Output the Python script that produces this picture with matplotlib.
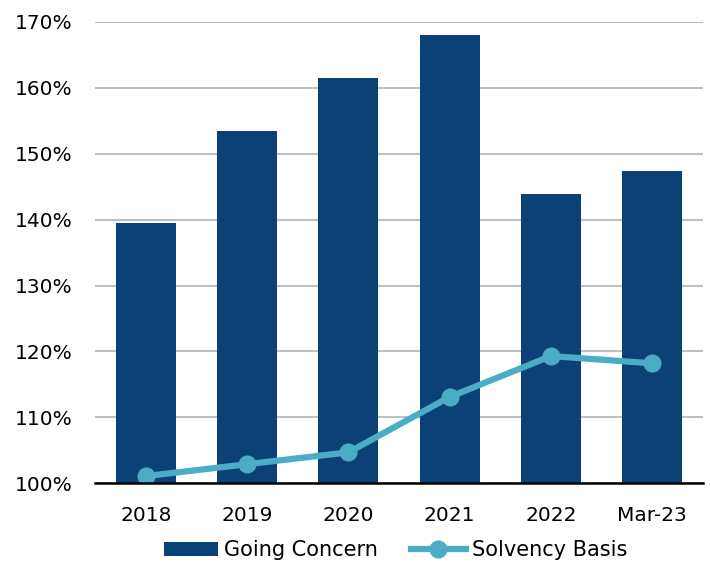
import matplotlib
matplotlib.use("Agg")
import matplotlib.pyplot as plt
from matplotlib.ticker import FuncFormatter

categories = ["2018", "2019", "2020", "2021", "2022", "Mar-23"]
going_concern = [139.5, 153.4, 161.4, 168.0, 143.9, 147.4]
solvency_basis = [101.1, 102.9, 104.7, 113.1, 119.3, 118.2]

plt.rcParams['font.family'] = ['DejaVu Sans']

fig = plt.figure(figsize=(7.10, 5.64), dpi=100)
ax = fig.add_axes([0.134, 0.143, 0.856, 0.8185])

x = list(range(len(categories)))
bars = ax.bar(x, going_concern, width=0.59, color="#0B4177", label="Going Concern", zorder=2)
line, = ax.plot(x, solvency_basis, color="#4BACC6", linewidth=4.5, marker="o", markersize=12,
                label="Solvency Basis", zorder=3)

ax.set_ylim(100, 170)
ax.set_xlim(-0.5, len(categories) - 0.5)
ax.set_yticks(range(100, 171, 10))
ax.yaxis.set_major_formatter(FuncFormatter(lambda v, p: f"{int(v)}%"))
ax.set_xticks(x)
ax.set_xticklabels(categories)
ax.tick_params(axis='both', length=0, labelsize=14.5, colors="black")
ax.tick_params(axis='x', pad=16)
ax.tick_params(axis='y', pad=16)
ax.grid(axis='y', color="#BFBFBF", linewidth=1.5, zorder=0)
ax.set_axisbelow(True)
for s in ["top", "right", "left"]:
    ax.spines[s].set_visible(False)
ax.spines["bottom"].set_color("black")
ax.spines["bottom"].set_linewidth(1.8)
ax.spines["bottom"].set_zorder(4)

fig.legend([bars, line], ["Going Concern", "Solvency Basis"], loc="lower center",
           bbox_to_anchor=(0.557, -0.027), ncol=2, frameon=False,
           fontsize=15, handlelength=2.6, handletextpad=0.3, columnspacing=1.6)

fig.savefig("out.png", dpi=100)
